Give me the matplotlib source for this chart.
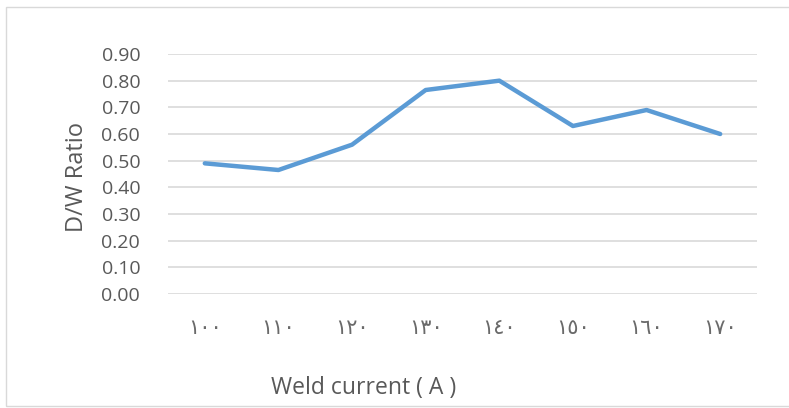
import matplotlib
matplotlib.use("Agg")
import matplotlib.pyplot as plt
from matplotlib.patches import Rectangle

# Weld current categories (Eastern Arabic numerals) and D/W ratio values
currents = ["١٠٠", "١١٠", "١٢٠", "١٣٠", "١٤٠", "١٥٠", "١٦٠", "١٧٠"]
dw_ratio = [0.49, 0.465, 0.56, 0.765, 0.80, 0.63, 0.69, 0.60]
y_ticks = [0.0, 0.1, 0.2, 0.3, 0.4, 0.5, 0.6, 0.7, 0.8, 0.9]

W, H = 789, 408
fig = plt.figure(figsize=(W / 100, H / 100), dpi=100)
fig.patch.set_facecolor("white")

# outer chart border
fig.patches.append(Rectangle((6 / W, 2 / H), 1.2, (H - 9) / H,
                             transform=fig.transFigure, fill=False,
                             edgecolor="#D9D9D9", linewidth=1.0))

left, right, top, bottom = 168, 757, 54, 294
ax = fig.add_axes([left / W, (H - bottom) / H, (right - left) / W, (bottom - top) / H])

x = list(range(len(currents)))
ax.plot(x, dw_ratio, color="#5B9BD5", linewidth=3.2, solid_capstyle="round",
        solid_joinstyle="round", zorder=3)

ax.set_xlim(-0.5, len(currents) - 0.5)
ax.set_ylim(0, 0.9)
ax.set_yticks(y_ticks)
ax.set_yticklabels([f"{v:.2f}" for v in y_ticks], fontsize=14,
                   color="#595959", fontfamily=["Open Sans", "DejaVu Sans"])
ax.set_xticks(x)
ax.set_xticklabels(currents, fontsize=15, color="#6a6a6a",
                   fontfamily=["DejaVu Sans"])
ax.tick_params(axis="both", length=0)
ax.tick_params(axis="y", pad=20)
ax.tick_params(axis="x", pad=17)

ax.grid(axis="y", color="#D9D9D9", linewidth=1.2)
ax.set_axisbelow(True)
for s in ax.spines.values():
    s.set_visible(False)

fig.text(77 / W, 1 - 177 / H, "D/W Ratio", rotation=90, ha="center", va="center",
         fontsize=17, color="#595959", fontfamily=["Open Sans", "DejaVu Sans"])
fig.text(364 / W, 1 - 388 / H, "Weld current ( A )", ha="center", va="center",
         fontsize=16.5, color="#595959", fontfamily=["Open Sans", "DejaVu Sans"])

fig.savefig("out.png", dpi=100)
